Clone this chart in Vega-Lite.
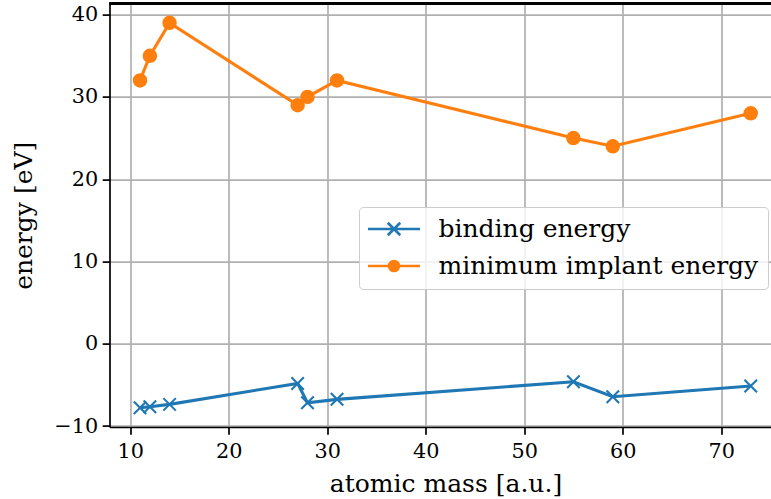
{
  "$schema": "https://vega.github.io/schema/vega-lite/v6.json",
  "width": 661.5,
  "height": 423.4,
  "autosize": {"type": "none"},
  "padding": {"left": 109.5, "top": 3.6, "right": 0, "bottom": 72},
  "config": {
    "font": "DejaVu Serif",
    "view": {"stroke": null},
    "axis": {
      "labelFont": "DejaVu Serif", "labelFontSize": 20.8, "labelColor": "black",
      "titleFont": "DejaVu Serif", "titleFontSize": 25, "titleFontWeight": "normal", "titleColor": "black",
      "domainColor": "black", "domainWidth": 1.7,
      "tickColor": "black", "tickWidth": 1.7, "tickSize": 7.3,
      "gridColor": "#b0b0b0", "gridWidth": 1.7, "gridOpacity": 1, "grid": true
    },
    "axisX": {"labelPadding": 7.5},
    "axisY": {"labelPadding": 4.5}
  },
  "data": {
    "values": [
      {"mass": 11, "energy": -7.78, "series": "binding energy"},
      {"mass": 12, "energy": -7.66, "series": "binding energy"},
      {"mass": 14, "energy": -7.37, "series": "binding energy"},
      {"mass": 27, "energy": -4.82, "series": "binding energy"},
      {"mass": 28, "energy": -7.17, "series": "binding energy"},
      {"mass": 31, "energy": -6.76, "series": "binding energy"},
      {"mass": 55, "energy": -4.62, "series": "binding energy"},
      {"mass": 59, "energy": -6.44, "series": "binding energy"},
      {"mass": 73, "energy": -5.14, "series": "binding energy"},
      {"mass": 11, "energy": 32, "series": "minimum implant energy"},
      {"mass": 12, "energy": 35, "series": "minimum implant energy"},
      {"mass": 14, "energy": 39, "series": "minimum implant energy"},
      {"mass": 27, "energy": 29, "series": "minimum implant energy"},
      {"mass": 28, "energy": 30, "series": "minimum implant energy"},
      {"mass": 31, "energy": 32, "series": "minimum implant energy"},
      {"mass": 55, "energy": 25, "series": "minimum implant energy"},
      {"mass": 59, "energy": 24, "series": "minimum implant energy"},
      {"mass": 73, "energy": 28, "series": "minimum implant energy"}
    ]
  },
  "encoding": {
    "x": {"field": "mass", "type": "quantitative",
      "scale": {"domain": [7.9, 75.06], "nice": false, "zero": false},
      "axis": {"values": [10, 20, 30, 40, 50, 60, 70], "title": "atomic mass [a.u.]", "titlePadding": 10, "titleX": 336}},
    "y": {"field": "energy", "type": "quantitative",
      "scale": {"domain": [-10.12, 41.34], "nice": false, "zero": false},
      "axis": {"values": [-10, 0, 10, 20, 30, 40], "title": "energy [eV]", "titlePadding": 17}}
  },
  "layer": [
    {
      "mark": {"type": "line", "strokeWidth": 3.1},
      "encoding": {
        "color": {"field": "series", "type": "nominal",
          "scale": {"domain": ["binding energy", "minimum implant energy"], "range": ["#1f77b4", "#ff7f0e"]}}
      }
    },
    {
      "transform": [{"filter": "datum.series == 'binding energy'"}],
      "mark": {"type": "point", "shape": "M-1,-1L1,1M-1,1L1,-1", "size": 156, "strokeWidth": 2.1, "filled": false, "opacity": 1},
      "encoding": {"color": {"field": "series", "type": "nominal"}}
    },
    {
      "transform": [{"filter": "datum.series == 'minimum implant energy'"}],
      "mark": {"type": "point", "shape": "circle", "size": 156, "filled": true, "opacity": 1, "stroke": "#ff7f0e", "strokeWidth": 2},
      "encoding": {"color": {"field": "series", "type": "nominal"}}
    },
    {
      "mark": {"type": "rule", "color": "black", "strokeWidth": 1.7},
      "encoding": {"y": {"datum": 41.34}, "x": null}
    },
    {
      "mark": {"type": "point", "opacity": 0, "filled": false},
      "encoding": {
        "color": {"field": "series", "type": "nominal",
          "legend": {
            "orient": "none", "legendX": 249.5, "legendY": 203.4, "title": null,
            "labelFont": "DejaVu Serif", "labelFontSize": 25, "labelColor": "black", "labelLimit": 500,
            "labelOffset": 45, "padding": 9.5, "rowPadding": 11,
            "fillColor": "rgba(255,255,255,0.8)", "strokeColor": "#cccccc", "cornerRadius": 4,
            "symbolOpacity": 1, "symbolStrokeWidth": 2.6
          }},
        "shape": {"field": "series", "type": "nominal",
          "scale": {"domain": ["binding energy", "minimum implant energy"], "range": [
            "M-2.6,0H7.8M1.35,-1.25L3.85,1.25M1.35,1.25L3.85,-1.25",
            "M-2.6,0H7.8M3.6,0A1,1,0,1,1,1.6,0A1,1,0,1,1,3.6,0M3.12,0A0.52,0.52,0,1,1,2.08,0A0.52,0.52,0,1,1,3.12,0M2.72,0A0.12,0.12,0,1,1,2.48,0A0.12,0.12,0,1,1,2.72,0"
          ]},
          "legend": {
            "orient": "none", "legendX": 249.5, "legendY": 203.4, "title": null,
            "labelFont": "DejaVu Serif", "labelFontSize": 25, "labelColor": "black", "labelLimit": 500,
            "labelOffset": 45, "padding": 9.5, "rowPadding": 11,
            "fillColor": "rgba(255,255,255,0.8)", "strokeColor": "#cccccc", "cornerRadius": 4,
            "symbolOpacity": 1, "symbolStrokeWidth": 2.6
          }}
      }
    }
  ]
}
